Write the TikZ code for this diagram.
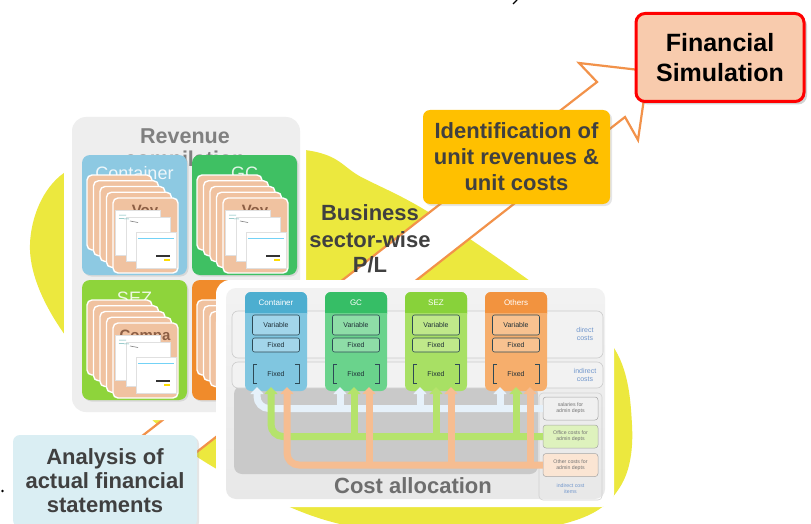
\documentclass[tikz,border=0pt]{standalone}
\usepackage{fontspec}
\setmainfont{Liberation Sans}
\usetikzlibrary{arrows.meta,shadows}

\definecolor{blobyellow}{HTML}{ECE83E}
\definecolor{arroworange}{HTML}{F2924A}
\definecolor{darktext}{HTML}{404040}
\definecolor{revgray}{HTML}{808080}
\definecolor{panelgray}{HTML}{EEEEEE}
\definecolor{cardblue}{HTML}{8DC9E2}
\definecolor{cardgreen}{HTML}{3FC063}
\definecolor{cardlime}{HTML}{8ED43B}
\definecolor{cardorange}{HTML}{F08B2B}
\definecolor{docpeach}{HTML}{F0C2A0}
\definecolor{docbrown}{HTML}{8C5E44}
\definecolor{gold}{HTML}{FFC000}
\definecolor{simpeach}{HTML}{F8CBAD}
\definecolor{simred}{HTML}{FF0000}
\definecolor{paleblue}{HTML}{DAEEF3}
\definecolor{hdblue}{HTML}{4DAED0}
\definecolor{bdblue}{HTML}{80C6E0}
\definecolor{cellblue}{HTML}{A2D5EA}
\definecolor{hdgreen}{HTML}{36BE66}
\definecolor{bdgreen}{HTML}{6AD38C}
\definecolor{cellgreen}{HTML}{8EDDA7}
\definecolor{hdlime}{HTML}{88D23A}
\definecolor{bdlime}{HTML}{A8E064}
\definecolor{celllime}{HTML}{BFE88A}
\definecolor{hdorange}{HTML}{F2933F}
\definecolor{bdorange}{HTML}{F6AE6C}
\definecolor{cellorange}{HTML}{F8C290}
\definecolor{celledge}{HTML}{2E4A56}
\definecolor{celltext}{HTML}{1E2E36}
\definecolor{busblue}{HTML}{E6F1FA}
\definecolor{busgreen}{HTML}{B5E36C}
\definecolor{buspeach}{HTML}{F6BD91}
\definecolor{labelblue}{HTML}{7096CC}
\definecolor{allocgray}{HTML}{6E6E6E}

% one revenue card: x, y, card colour, title, word on the front sheet, name
\newcommand\revcard[6]{%
  \begin{scope}[shift={(#1,#2)}]
    \fill[#3, rounded corners=8pt, drop shadow={opacity=0.2,shadow xshift=1.5pt,shadow yshift=-1.5pt}] (0,0) rectangle (105,120);
    \node[cardtitle, anchor=base] (#6-title) at (52.5,24) {#4};
    \foreach \k in {0,...,4}
      \draw[docsheet] (5+6.5*\k,20+5.75*\k) rectangle +(65,75);
    \node[docword] (#6-word) at (63,60) {#5};
    \draw[papersheet] (33,55) rectangle (78,100);
    \draw[papersheet] (44,62) rectangle (88,106);
    \draw[papersheet] (54,77) rectangle (94,113);
    \draw[teal!60, line width=0.5pt] (37,60) -- (44,60) (37,63.5) -- (47,64);
    \draw[gray, line width=0.6pt] (48,66) -- (56,67.5);
    \draw[cyan!55, line width=0.6pt] (56,83) -- (92,83);
    \fill[black!80] (74,100) rectangle (88,101.8);
    \fill[yellow!80!orange] (82,104) rectangle (88,105.5);
  \end{scope}}

% one business-sector column of the cost table: x, header colour, body colour, title, name, cell colour
\newcommand\costcol[6]{%
  \fill[#3, rounded corners=6pt] (#1,292) rectangle (#1+62,391);
  \fill[#2, rounded corners=6pt] (#1,292) rectangle (#1+62,320);
  \fill[#3] (#1,313) rectangle (#1+62,322);
  \node[colhead] (#5-head) at (#1+31,302.5) {#4};
  \node[cellbox, fill=#6, minimum width=47pt, minimum height=20pt] (#5-var) at (#1+31,325) {Variable};
  \node[cellbox, fill=#6, minimum width=47pt, minimum height=14pt] (#5-fix) at (#1+31,345) {Fixed};
  \node[cellbare] (#5-ind) at (#1+31,373.5) {Fixed};
  \draw[celledge, line width=0.6pt] (#1+12,364) -- (#1+8,364) -- (#1+8,383) -- (#1+12,383)
                                    (#1+50,364) -- (#1+54,364) -- (#1+54,383) -- (#1+50,383);}

\begin{document}
\begin{tikzpicture}[x=1pt, y=-1pt,
  bigbold/.style={font=\bfseries\fontsize{22}{26}\selectfont, text=darktext, align=center},
  cardtitle/.style={font=\fontsize{18}{18}\selectfont, text=white, text opacity=0.85, inner sep=0pt},
  docsheet/.style={fill=docpeach, draw=white, line width=1.4pt, rounded corners=5pt},
  papersheet/.style={fill=white, draw=black!12, line width=0.4pt},
  docword/.style={font=\bfseries\fontsize{15}{15}\selectfont, text=docbrown, anchor=base, inner sep=0pt},
  colhead/.style={font=\fontsize{8}{9}\selectfont, text=white},
  cellbox/.style={draw=celledge, line width=0.6pt, rounded corners=2pt, font=\fontsize{7}{8}\selectfont, text=celltext, inner sep=0pt},
  cellbare/.style={font=\fontsize{7}{8}\selectfont, text=celltext, inner sep=0pt},
  bus/.style={line width=7pt, rounded corners=12pt, -{Triangle[width=13pt,length=7pt]}},
  lblbox/.style={draw=black!35, line width=0.5pt, rounded corners=3pt, minimum width=55pt, minimum height=23pt, font=\fontsize{5.2}{6}\selectfont, text=black!55, align=center, inner sep=0pt},
  costnote/.style={font=\fontsize{7}{8}\selectfont, text=labelblue, align=center},
]
\useasboundingbox (0,0) rectangle (811,524);
\fill[white] (0,0) rectangle (811,524);

% yellow backdrop blob
\fill[blobyellow] plot[smooth cycle, tension=0.6] coordinates {
  (30,250) (60,176) (150,150) (305,150) (363,178) (430,213) (530,281) (612,345)
  (632,425) (620,487) (570,522) (450,537) (325,520) (215,468) (150,418) (65,335)};

% broad outlined arrow rising towards the simulation box
\draw[fill=white, draw=arroworange, line width=2.2pt, line join=miter]
  (110,461) -- (597,82) -- (579,63) -- (648,71) -- (638,140) -- (625,117) -- (138,498) -- cycle;

% revenue compilation panel
\fill[white, rounded corners=18pt] (64,111) rectangle (306,420);
\fill[panelgray, rounded corners=14pt] (72,117) rectangle (300,412);
\node[font=\bfseries\fontsize{21.5}{24}\selectfont, text=revgray, anchor=base] (revtitle) at (185,143) {Revenue};
\node[font=\bfseries\fontsize{21.5}{24}\selectfont, text=revgray, anchor=base] (revsub) at (185,166) {compilation};

\revcard{82}{155}{cardblue}{Container}{Voy}{rcont}
\revcard{192}{155}{cardgreen}{GC}{Voy}{rgc}
\revcard{82}{280}{cardlime}{SEZ}{Compa}{rsez}
\revcard{192}{280}{cardorange}{}{}{roth}

% cost allocation panel
\fill[white, rounded corners=14pt] (216,280) rectangle (614,507);
\shade[top color=black!5, bottom color=black!9, rounded corners=10pt] (226,288) rectangle (605,499);
\fill[black!21, rounded corners=8pt] (234,386) rectangle (538,474);
\draw[black!20, fill=black!5, line width=0.6pt, rounded corners=6pt] (232,311) rectangle (603,358);
\draw[black!20, fill=black!5, line width=0.6pt, rounded corners=6pt] (232,362) rectangle (603,388);
\node[costnote] (direct) at (585,334) {direct\\costs};
\node[costnote] (indirect) at (585,375) {indirect\\costs};

\costcol{245}{hdblue}{bdblue}{Container}{ccont}{cellblue}
\costcol{325}{hdgreen}{bdgreen}{GC}{cgc}{cellgreen}
\costcol{405}{hdlime}{bdlime}{SEZ}{csez}{celllime}
\costcol{485}{hdorange}{bdorange}{Others}{coth}{cellorange}

% indirect cost items
\draw[black!18, line width=0.6pt, rounded corners=4pt] (539,393) rectangle (602,500);
\node[lblbox, fill=black!6] (salaries) at (570.5,408.5) {salaries for\\admin depts};
\node[lblbox, fill=busgreen!45] (office) at (570.5,436.5) {Office costs for\\admin depts};
\node[lblbox, fill=buspeach!40] (other) at (570.5,465) {Other costs for\\admin depts};
\node[costnote, font=\fontsize{5.2}{6}\selectfont] (items) at (570.5,489) {indirect cost\\items};

% allocation flows into the indirect fixed cells
\draw[bus, busblue] (salaries.west) -| (257,387);
\foreach \xx in {340,420,500} \draw[bus, busblue] (\xx,412) -- (\xx,387);
\draw[bus, busgreen] (office.west) -| (271,387);
\foreach \xx in {354,436,516} \draw[bus, busgreen] (\xx,435) -- (\xx,387);
\draw[bus, buspeach] (other.west) -| (287,387);
\foreach \xx in {369,451,530} \draw[bus, buspeach] (\xx,465) -- (\xx,387);

\node[font=\bfseries\fontsize{22}{26}\selectfont, text=allocgray, anchor=base] (alloc) at (413,493) {Cost allocation};

% business sector-wise P/L
\node[bigbold, anchor=base] (biz1) at (370,220) {Business};
\node[bigbold, anchor=base] (biz2) at (370,247) {sector-wise};
\node[bigbold, anchor=base] (biz3) at (370,272) {P/L};

% stage boxes
\node[bigbold, fill=gold, rounded corners=7pt, minimum width=187pt, minimum height=94pt,
      drop shadow={opacity=0.2,shadow xshift=2pt,shadow yshift=-2pt}] (ident) at (516.5,157)
      {Identification of\\unit revenues \&\\unit costs};
\node[font=\bfseries\fontsize{25}{30}\selectfont, align=center, fill=simpeach, draw=simred, line width=3pt,
      rounded corners=9pt, minimum width=168pt, minimum height=88pt,
      drop shadow={opacity=0.35,shadow xshift=3pt,shadow yshift=-3pt}] (finsim) at (720,57.5)
      {Financial\\Simulation};
\node[font=\bfseries\fontsize{22}{24}\selectfont, text=darktext, align=center, fill=paleblue,
      rounded corners=7pt, minimum width=184pt, minimum height=92pt,
      drop shadow={opacity=0.2,shadow xshift=2pt,shadow yshift=-2pt}] (analysis) at (105,481)
      {Analysis of\\actual financial\\statements};

% stray marks at the edges
\fill[black] (2.5,491) circle (1.3pt);
\draw[black, line width=1.4pt] (517,0) -- (513,4);
\end{tikzpicture}
\end{document}
